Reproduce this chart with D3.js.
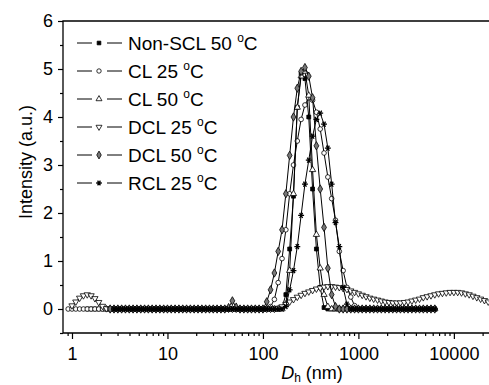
<!DOCTYPE html>
<html>
<head>
<meta charset="utf-8">
<script src="https://cdn.jsdelivr.net/npm/d3@7"></script>
<style>
body{margin:0;background:#fff;}
svg{display:block;font-family:Arial,"Liberation Sans",sans-serif;}
</style>
</head>
<body>
<svg id="chart" width="489" height="385"></svg>
<script>
const _ = null;

// hydrodynamic diameter grid (nm), shared by all series
const sizes = [0.759,0.832,0.912,1.000,1.096,1.202,1.318,1.445,1.585,1.738,
  1.905,2.089,2.291,2.512,2.754,3.020,3.311,3.631,3.981,4.365,
  4.786,5.248,5.754,6.310,6.918,7.586,8.318,9.120,10.00,10.96,
  12.02,13.18,14.45,15.85,17.38,19.05,20.89,22.91,25.12,27.54,
  30.20,33.11,36.31,39.81,43.65,47.86,52.48,57.54,63.10,69.18,
  75.86,83.18,91.20,100.0,109.6,120.2,131.8,144.5,158.5,173.8,
  190.5,208.9,229.1,251.2,275.4,302.0,331.1,363.1,398.1,436.5,
  478.6,524.8,575.4,631.0,691.8,758.6,831.8,912.0,1000,1096,
  1202,1318,1445,1585,1738,1905,2089,2291,2512,2754,
  3020,3311,3631,3981,4365,4786,5248,5754,6310,6918,
  7586,8318,9120,10000,10965,12023,13183,14454,15849,17378,
  19055,20893,22909,25119];

// intensities (a.u.), one per size above (null = no point)
const nonSCL50 = [_,_,_,_,_,_,_,0,0,0,
  0,0,0,0,0,0,0,0,0,0, 0,0,0,0,0,0,0,0,0,0,
  0,0,0,0,0,0,0,0,0,0, 0,0,0,0,0,0,0,0,0,0,
  0,0,0,0,0,0,0,0,0.03,0.3,
  1.25,2.35,4.2,4.9,4.8,4.0,2.5,1.25,0.45,0.03,
  0,0,0,0,0,0,0,0,0,0, 0,0,0,0,0,0,0,0,0,0,
  0,0,0,0,0,0,0,0,0,_,
  _,_,_,_,_,_,_,_,_,_, _,_,_,_];
const cl25 = [_,_,0,0,0,0,0,0,0,0,
  0,0,0,0,0,0,0,0,0,0, 0,0,0,0,0,0,0,0,0,0,
  0,0,0,0,0,0,0,0,0,0, 0,0,0,0,0,0,0,0,0,0,
  0,0,0,0,0,0.05,0.2,0.55,1.05,1.65,
  2.4,3.0,3.5,3.95,4.25,4.4,4.35,4.1,3.75,3.25,
  2.75,2.3,1.85,1.2,0.8,0.45,0.25,0.07,0,0,
  0,0,0,0,0,0,0,0,0,0,
  0,0,0,0,0,0,0,0,0,_,
  _,_,_,_,_,_,_,_,_,_, _,_,_,_];
const cl50 = [_,_,_,_,_,_,_,_,_,_,
  _,_,0,0,0,0,0,0,0,0, 0,0,0,0,0,0,0,0,0,0,
  0,0,0,0,0,0,0,0,0,0, 0,0,0,0,0,0,0,0,0,0,
  0,0,0,0,0,0,0,0,0,0.1,
  0.8,2.4,4.2,4.85,4.95,4.45,2.9,1.55,0.85,0.3,
  0.05,0,0,0,0,0,0,0,0,0,
  0,0,0,0,0,0,0,0,0,0,
  0,0,0,0,0,0,0,0,0,_,
  _,_,_,_,_,_,_,_,_,_, _,_,_,_];
const dcl25 = [_,_,_,0.07,0.15,0.23,0.28,0.3,0.28,0.22,
  0.14,0.06,0.01,0,0,0,0,0,0,0,
  0,0,0,0,0,0,0,0,0,0, 0,0,0,0,0,0,0,0,0,0,
  0,0,0,0,0,0,0,0,0,0,
  0,0,0,0,0,0,0,0.02,0.05,0.1,
  0.15,0.2,0.25,0.29,0.33,0.36,0.39,0.42,0.44,0.46,
  0.47,0.47,0.46,0.45,0.43,0.41,0.38,0.35,0.32,0.29,
  0.26,0.23,0.21,0.19,0.17,0.15,0.14,0.13,0.13,0.13,
  0.14,0.15,0.17,0.19,0.21,0.24,0.26,0.28,0.3,0.32,
  0.33,0.34,0.35,0.35,0.35,0.34,0.32,0.3,0.27,0.24,
  0.21,0.18,0.15,0.12];
const dcl50 = [_,_,_,_,_,_,_,_,_,_,
  _,_,_,0,0,0,0,0,0,0, 0,0,0,0,0,0,0,0,0,0,
  0,0,0,0,0,0,0,0,0,0,
  0,0,0,0,0.03,0.17,0.04,0,0,0,
  0,0,0,0,0.15,0.4,0.75,1.2,1.65,2.4,
  3.2,4.0,4.6,4.95,5.03,4.85,4.4,3.4,2.5,1.7,
  0.85,0.3,0.05,0,0,0,0,0,0,0,
  0,0,0,0,0,0,0,0,0,0,
  0,0,0,0,0,0,0,0,0,_,
  _,_,_,_,_,_,_,_,_,_, _,_,_,_];
const rcl25 = [_,_,_,_,_,_,_,_,_,_,
  _,_,_,_,0,0,0,0,0,0, 0,0,0,0,0,0,0,0,0,0,
  0,0,0,0,0,0,0,0,0,0, 0,0,0,0,0,0,0,0,0,0,
  0,0,0,0,0,0,0,0,0,0.05,
  0.4,0.8,1.3,1.95,2.6,3.1,3.6,3.95,4.08,3.85,
  3.35,2.6,1.8,1.3,0.45,0.1,0,0,0,0,
  0,0,0,0,0,0,0,0,0,0,
  0,0,0,0,0,0,0,0,0,_,
  _,_,_,_,_,_,_,_,_,_, _,_,_,_];

const seriesNames = ["Non-SCL 50", "CL 25", "CL 50", "DCL 25", "DCL 50", "RCL 25"];
const seriesValues = [nonSCL50, cl25, cl50, dcl25, dcl50, rcl25];
const yTicks = [0, 1, 2, 3, 4, 5, 6];
const xTicks = [1, 10, 100, 1000, 10000];

const svg = d3.select("#chart");
const mLeft = 63, mRight = 490, mTop = 21, mBottom = 333;
const font = "Arial, 'Liberation Sans', sans-serif";

let x = d3.scaleLog().domain([0.805, 23900]).range([mLeft, mRight]);
let y = d3.scaleLinear().domain([-0.5, 6]).range([mBottom, mTop]);

svg.append("rect").attr("width", 489).attr("height", 385).attr("fill", "#fff");

svg.append("clipPath").attr("id", "plotclip")
   .append("rect").attr("x", mLeft).attr("y", mTop)
   .attr("width", mRight - mLeft).attr("height", mBottom - mTop);

// marker shapes, one per series
let sym = d3.symbol();
let markers = [
  {shape: d3.symbolSquare, size: 15, fill: "#000", rot: 0, sw: 0.8},
  {shape: d3.symbolCircle, size: 17, fill: "#fff", rot: 0, sw: 0.8},
  {shape: d3.symbolTriangle, size: 17, fill: "#fff", rot: 0, sw: 0.8},
  {shape: d3.symbolTriangle, size: 17, fill: "#fff", rot: 180, sw: 0.8},
  {shape: d3.symbolDiamond, size: 20, fill: "#777", rot: 0, sw: 0.8},
  {shape: d3.symbolAsterisk, size: 24, fill: "none", rot: 90, sw: 1.3}
];

let plot = svg.append("g").attr("clip-path", "url(#plotclip)");

let line = d3.line()
   .defined(d => d.v !== null)
   .x(d => x(d.s))
   .y(d => y(d.v));

seriesValues.forEach((vals, i) => {
  let pts = vals.map((v, j) => ({s: sizes[j], v: v}));
  let g = plot.append("g");
  g.append("path")
   .datum(pts)
   .attr("fill", "none")
   .attr("stroke", "#000")
   .attr("stroke-width", 1)
   .attr("d", line);
  let m = markers[i];
  g.selectAll("path.pt")
   .data(pts.filter(d => d.v !== null))
   .join("path")
   .attr("class", "pt")
   .attr("d", sym.type(m.shape).size(m.size)())
   .attr("transform", d => `translate(${x(d.s)},${y(d.v)}) rotate(${m.rot})`)
   .attr("fill", m.fill)
   .attr("stroke", "#000")
   .attr("stroke-width", m.sw);
});

// frame
svg.append("path")
   .attr("d", `M${mRight},${mTop}H${mLeft}V${mBottom}H${mRight}`)
   .attr("fill", "none").attr("stroke", "#000").attr("stroke-width", 1.3);

// x axis
let minorX = [];
for (let dec = 0.1; dec <= 10000; dec *= 10) {
  for (let k = 2; k <= 9; k++) {
    let v = Math.round(dec * k * 1000) / 1000;
    if (v > 0.805 && v < 23900) minorX.push(v);
  }
}
svg.append("g").attr("transform", `translate(0,${mBottom})`)
   .call(d3.axisBottom(x).tickValues(minorX).tickSize(3).tickFormat(""))
   .call(g => g.select(".domain").remove());
let xa = svg.append("g").attr("transform", `translate(0,${mBottom})`)
   .call(d3.axisBottom(x).tickValues(xTicks).tickSize(6).tickPadding(8).tickFormat(d3.format("d")));
xa.select(".domain").remove();
xa.selectAll("text").attr("font-size", 18).attr("fill", "#000").attr("font-family", font);

// y axis
let ya = svg.append("g").attr("transform", `translate(${mLeft},0)`)
   .call(d3.axisLeft(y).tickValues(yTicks).tickSize(5).tickPadding(5).tickFormat(d3.format("d")));
ya.select(".domain").remove();
ya.selectAll("text").attr("font-size", 18).attr("fill", "#000").attr("font-family", font);
svg.append("g").attr("transform", `translate(${mLeft},0)`)
   .call(d3.axisLeft(y).tickValues(d3.range(-0.5, 6, 1)).tickSize(3).tickFormat(""))
   .call(g => g.select(".domain").remove());
svg.selectAll(".tick line").attr("stroke", "#000").attr("stroke-width", 1.2);

// axis titles
let xt = svg.append("text").attr("x", 312).attr("y", 379)
   .attr("text-anchor", "middle").attr("font-size", 18);
xt.append("tspan").attr("font-style", "italic").text("D");
xt.append("tspan").attr("font-size", 12).attr("dy", 3).text("h");
xt.append("tspan").attr("dy", -3).text(" (nm)");

svg.append("text")
   .attr("transform", "translate(32,162) rotate(-90)")
   .attr("text-anchor", "middle").attr("font-size", 18)
   .text("Intensity (a.u.)");

// legend
let leg = svg.append("g");
seriesNames.forEach((name, i) => {
  let cy = 43 + i * 28;
  let m = markers[i];
  leg.append("line").attr("x1", 77).attr("x2", 92).attr("y1", cy).attr("y2", cy)
     .attr("stroke", "#000").attr("stroke-width", 1);
  leg.append("line").attr("x1", 107).attr("x2", 122).attr("y1", cy).attr("y2", cy)
     .attr("stroke", "#000").attr("stroke-width", 1);
  leg.append("path")
     .attr("d", sym.type(m.shape).size(m.size * 0.9)())
     .attr("transform", `translate(99,${cy}) rotate(${m.rot})`)
     .attr("fill", m.fill).attr("stroke", "#000").attr("stroke-width", m.sw);
  let t = leg.append("text").attr("x", 128).attr("y", cy + 7).attr("font-size", 19);
  t.append("tspan").text(name + " ");
  t.append("tspan").attr("font-size", 12).attr("dy", -8).text("o");
  t.append("tspan").attr("dy", 8).text("C");
});
</script>
</body>
</html>
